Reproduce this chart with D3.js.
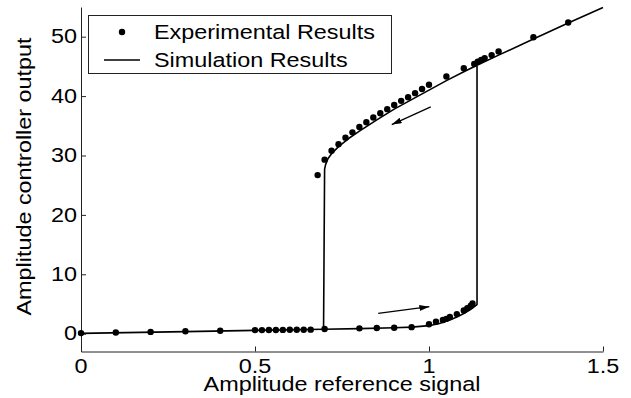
<!DOCTYPE html>
<html>
<head>
<meta charset="utf-8">
<script src="https://cdn.jsdelivr.net/npm/d3@7"></script>
<style>
  body { margin: 0; background: #fff; }
  text { font-family: "Liberation Sans", Arial, sans-serif; fill: #000; }
</style>
</head>
<body>
<svg id="chart" width="631" height="398"></svg>
<script>
// experimental points, rising sweep (lower branch)
var expLowX = [0, 0.1, 0.2, 0.3, 0.4, 0.5, 0.52, 0.54, 0.56, 0.58, 0.6, 0.62, 0.64, 0.66, 0.7,
               0.8, 0.85, 0.9, 0.95, 1.0, 1.02, 1.04, 1.05, 1.06, 1.08, 1.1, 1.11, 1.12, 1.125];
var expLowY = [0.1, 0.2, 0.3, 0.4, 0.5, 0.6, 0.6, 0.62, 0.63, 0.64, 0.65, 0.66, 0.67, 0.68, 0.8,
               0.9, 0.95, 1.0, 1.1, 1.6, 2.0, 2.3, 2.5, 2.8, 3.3, 3.9, 4.3, 4.7, 5.1];
// experimental points, falling sweep (upper branch)
var expUpX = [0.68, 0.70, 0.72, 0.74, 0.76, 0.78, 0.80, 0.82, 0.84, 0.86, 0.88, 0.90, 0.92, 0.94,
              0.96, 0.98, 1.00, 1.05, 1.10, 1.13, 1.14, 1.15, 1.16, 1.18, 1.20, 1.30, 1.40];
var expUpY = [26.7, 29.3, 30.8, 31.9, 33.0, 33.9, 34.8, 35.6, 36.4, 37.1, 37.8, 38.5, 39.2, 39.8,
              40.5, 41.2, 41.9, 43.3, 44.7, 45.4, 45.8, 46.1, 46.4, 46.9, 47.5, 49.9, 52.4];

// simulation: lower branch then jump up, upper branch to the end
var simAX = [0, 0.3, 0.5, 0.697, 0.8, 0.9, 0.95, 1.0, 1.03, 1.06, 1.08, 1.1, 1.12, 1.138, 1.138, 1.2, 1.3, 1.4, 1.5];
var simAY = [0.05, 0.35, 0.55, 0.75, 0.85, 1.0, 1.1, 1.35, 1.7, 2.3, 2.8, 3.4, 4.1, 4.9, 45.2, 46.9, 49.6, 52.3, 54.9];
// simulation: upper branch going down, then drop
var simBX = [1.138, 1.10, 1.05, 1.00, 0.95, 0.90, 0.85, 0.80, 0.77, 0.74, 0.72, 0.71, 0.703, 0.700, 0.697];
var simBY = [45.2, 44.1, 42.6, 41.0, 39.4, 37.8, 36.0, 34.1, 32.9, 31.5, 30.3, 29.5, 28.5, 27.7, 0.75];

// direction arrows [x1, y1, x2, y2]
var arrowDown = [1.005, 38.2, 0.893, 35.2];
var arrowUp = [0.854, 3.42, 1.001, 4.55];

var xTicks = [0, 0.5, 1, 1.5];
var xTickLabels = ["0", "0.5", "1", "1.5"];
var yTicks = [0, 10, 20, 30, 40, 50];
var yTickLabels = ["0", "10", "20", "30", "40", "50"];

var fs = 19.5, sx = 1.2; // text looks stretched wide vs Arial

var svg = d3.select("#chart");
var x = d3.scaleLinear().domain([0, 1.5]).range([81, 603]);
var y = d3.scaleLinear().domain([-3, 55]).range([351.5, 7]);

// wide text helper
function label(str, px, py, anchor, rot) {
  return svg.append("text")
    .attr("transform", "translate(" + px + "," + py + ")" + (rot ? " rotate(" + rot + ")" : "") + " scale(" + sx + ",1)")
    .attr("text-anchor", anchor)
    .style("font-size", fs + "px")
    .text(str);
}

// axes, ticks pointing inward
var xAxis = svg.append("g").attr("transform", "translate(0," + y(-3) + ")")
  .call(d3.axisBottom(x).tickValues(xTicks).tickSize(-5).tickSizeOuter(0).tickFormat(""));
var yAxis = svg.append("g").attr("transform", "translate(" + x(0) + ",0)")
  .call(d3.axisLeft(y).tickValues(yTicks).tickSize(-5).tickSizeOuter(0).tickFormat(""));
svg.selectAll(".domain, .tick line").attr("stroke", "#222").attr("stroke-width", 1);

xTicks.forEach(function(t, i) { label(xTickLabels[i], x(t), 373, "middle"); });
yTicks.forEach(function(t, i) { label(yTickLabels[i], 77, y(t) + 6.7, "end"); });

label("Amplitude reference signal", 342, 391, "middle");
label("Amplitude controller output", 31, 176.5, "middle", -90);

// simulation lines
var line = d3.line().x(function(d) { return x(d[0]); }).y(function(d) { return y(d[1]); });
var simA = d3.zip(simAX, simAY), simB = d3.zip(simBX, simBY);
[simA, simB].forEach(function(s) {
  svg.append("path").attr("d", line(s))
    .attr("fill", "none").attr("stroke", "#000").attr("stroke-width", 1.6)
    .attr("stroke-linejoin", "round");
});

// experimental dots
var pts = d3.zip(expLowX, expLowY).concat(d3.zip(expUpX, expUpY));
svg.selectAll(".dot").data(pts).enter().append("circle")
  .attr("class", "dot")
  .attr("cx", function(d) { return x(d[0]); })
  .attr("cy", function(d) { return y(d[1]); })
  .attr("r", 3.2)
  .attr("fill", "#000");

// arrows
svg.append("defs").append("marker")
  .attr("id", "head").attr("viewBox", "0 0 10 6")
  .attr("refX", 10).attr("refY", 3)
  .attr("markerWidth", 10).attr("markerHeight", 6)
  .attr("markerUnits", "userSpaceOnUse")
  .attr("orient", "auto")
  .append("path").attr("d", "M0,0L10,3L0,6Z").attr("fill", "#000");

[arrowDown, arrowUp].forEach(function(a) {
  svg.append("line")
    .attr("x1", x(a[0])).attr("y1", y(a[1]))
    .attr("x2", x(a[2])).attr("y2", y(a[3]))
    .attr("stroke", "#000").attr("stroke-width", 1.3)
    .attr("marker-end", "url(#head)");
});

// legend
var lg = svg.append("g");
lg.append("rect").attr("x", 88.5).attr("y", 15.5).attr("width", 303).attr("height", 58)
  .attr("fill", "#fff").attr("stroke", "#222").attr("stroke-width", 1);
lg.append("circle").attr("cx", 122).attr("cy", 32).attr("r", 3.2).attr("fill", "#000");
lg.append("line").attr("x1", 104).attr("x2", 140).attr("y1", 60).attr("y2", 60)
  .attr("stroke", "#000").attr("stroke-width", 1.6);
label("Experimental Results", 154, 39, "start");
label("Simulation Results", 154, 66.5, "start");
</script>
</body>
</html>
